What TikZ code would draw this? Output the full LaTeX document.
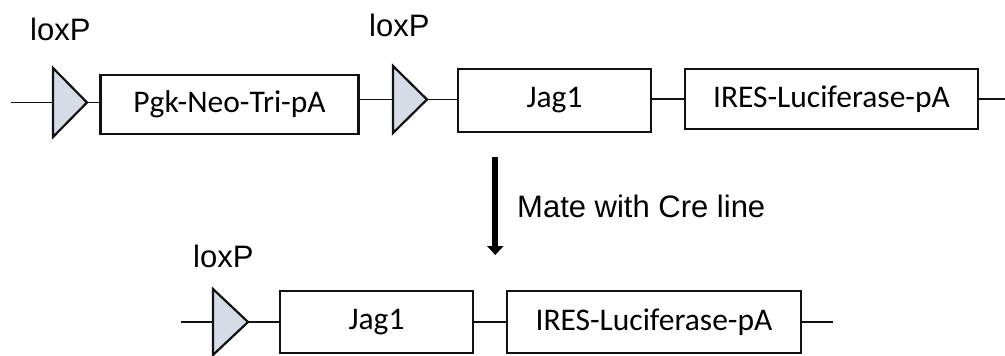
\documentclass[tikz,border=0pt]{standalone}
\usepackage{fontspec}
\setmainfont{Liberation Sans}
\newfontfamily\calib{Carlito}
\usetikzlibrary{arrows.meta}
\definecolor{loxfill}{HTML}{D6DCE5}
\definecolor{ink}{HTML}{111111}
\begin{document}
\begin{tikzpicture}[x=1pt,y=-1pt,
  gene/.style={draw=ink,line width=2.6pt,fill=white,inner sep=0pt,
    font=\calib\fontsize{31.5}{36}\selectfont,text=black},
  loxtri/.style={draw=ink,line width=2.2pt,fill=loxfill,line join=miter},
  lbl/.style={anchor=base west,inner sep=0pt,font=\fontsize{31}{36}\selectfont,text=black},
  wire/.style={draw=ink,line width=1.4pt},
  matearrow/.style={draw=black,line width=6pt,-{Triangle[width=16pt,length=9pt]}}
]
\useasboundingbox (0,0) rectangle (1005,356);
\fill[white] (0,0) rectangle (1005,356);

% ---- top construct ----
\coordinate (s1) at (11,102.5);
\coordinate (t1w) at (53,102.5);
\coordinate (t1e) at (87,102.5);
\node[gene,minimum width=258pt,minimum height=59pt] (pgk) at (229.5,104.5) {Pgk-Neo-Tri-pA};
\coordinate (t2w) at (393,99.5);
\coordinate (t2e) at (427,99.5);
\node[gene,minimum width=193pt,minimum height=63pt] (jag) at (554.5,100.3) {Jag1};
\node[gene,minimum width=293pt,minimum height=60pt] (ires) at (831.5,99) {IRES-Luciferase-pA};
\coordinate (e1) at (1005,99);

\draw[wire] (s1) -- (t1w);
\draw[wire] (t1e) -- (t1e -| pgk.west);
\draw[wire] (pgk.east |- t2w) -- (t2w);
\draw[wire] (t2e) -- (t2e -| jag.west);
\draw[wire] (jag.east |- ires.west) -- (ires.west);
\draw[wire] (ires.east) -- (e1);

\draw[loxtri] (53,68) -- (53,137) -- (t1e) -- cycle;
\draw[loxtri] (393,66) -- (393,133) -- (t2e) -- cycle;

\node[lbl] (lx1) at (30,41) {loxP};
\node[lbl] (lx2) at (369,36) {loxP};

% ---- arrow ----
\coordinate (atop) at (495.3,157);
\coordinate (atip) at (495.3,255);
\draw[matearrow] (atop) -- (atip);
\node[lbl] (mate) at (517,217) {Mate with Cre line};

% ---- bottom construct ----
\coordinate (s2) at (181,322);
\coordinate (t3w) at (213,322);
\coordinate (t3e) at (248,322);
\node[gene,minimum width=193pt,minimum height=62pt] (jagb) at (376.5,322) {Jag1};
\node[gene,minimum width=294pt,minimum height=62pt] (iresb) at (654,322) {IRES-Luciferase-pA};
\coordinate (e2) at (833,322);

\draw[wire] (s2) -- (t3w);
\draw[wire] (t3e) -- (t3e -| jagb.west);
\draw[wire] (jagb.east) -- (iresb.west);
\draw[wire] (iresb.east) -- (e2);

\draw[loxtri] (213,289) -- (213,355) -- (t3e) -- cycle;

\node[lbl] (lx3) at (193,267) {loxP};
\end{tikzpicture}
\end{document}
